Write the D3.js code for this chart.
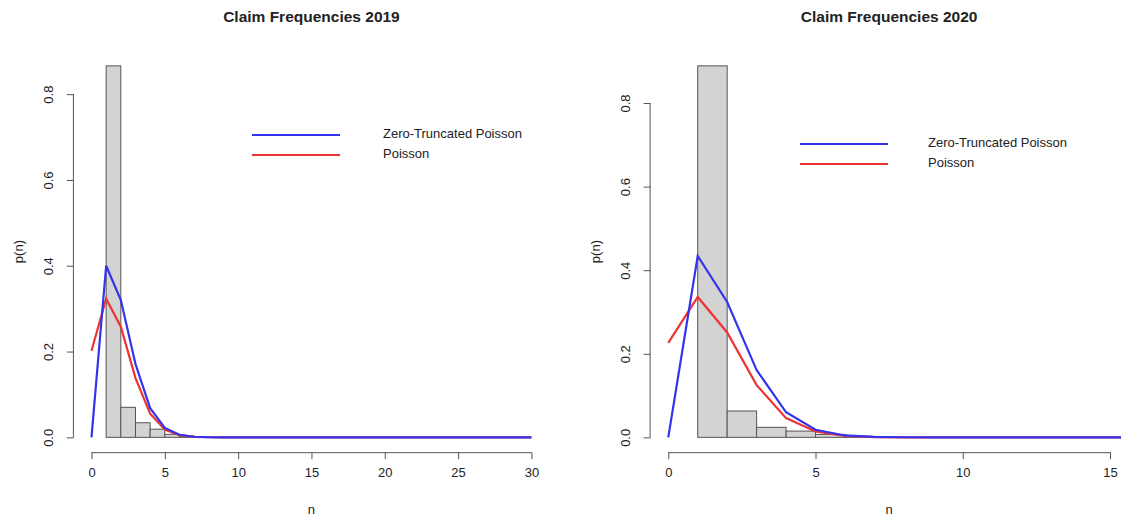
<!DOCTYPE html>
<html>
<head>
<meta charset="utf-8">
<script src="https://cdn.jsdelivr.net/npm/d3@7"></script>
<style>
  body { margin: 0; background: #fff; }
  text { font-family: "Liberation Sans", Arial, sans-serif; fill: #222; }
</style>
</head>
<body>
<div id="container"></div>
<script>
let w = 1121;
let h = 516;

// histogram bins (left edge of each unit-wide bar) and densities
let binStarts = [1, 2, 3, 4, 5, 6];
let density2019 = [0.866, 0.070, 0.034, 0.019, 0.007, 0.003];
let density2020 = [0.889, 0.063, 0.024, 0.015, 0.007, 0.002];

// fitted pmf values for n = 0..30
let ztp2019 = [0, 0.400, 0.320, 0.171, 0.068, 0.022, 0.006, 0.0014, 0.0003, 0,
  0, 0, 0, 0, 0, 0, 0, 0, 0, 0, 0, 0, 0, 0, 0, 0, 0, 0, 0, 0, 0];
let pois2019 = [0.202, 0.323, 0.258, 0.138, 0.055, 0.018, 0.005, 0.001, 0.0002, 0,
  0, 0, 0, 0, 0, 0, 0, 0, 0, 0, 0, 0, 0, 0, 0, 0, 0, 0, 0, 0, 0];
let ztp2020 = [0, 0.434, 0.324, 0.161, 0.060, 0.018, 0.0045, 0.001, 0.0002, 0,
  0, 0, 0, 0, 0, 0, 0, 0, 0, 0, 0, 0, 0, 0, 0, 0, 0, 0, 0, 0, 0];
let pois2020 = [0.226, 0.336, 0.251, 0.125, 0.046, 0.014, 0.0035, 0.0007, 0.0001, 0,
  0, 0, 0, 0, 0, 0, 0, 0, 0, 0, 0, 0, 0, 0, 0, 0, 0, 0, 0, 0, 0];

let xTicks2019 = [0, 5, 10, 15, 20, 25, 30];
let xTicks2020 = [0, 5, 10, 15];
let yTicks = [0, 0.2, 0.4, 0.6, 0.8];
let legendLabels = ["Zero-Truncated Poisson", "Poisson"];
let legendColors = ["#3333ee", "#ee3333"];

let panels = [
  { title: "Claim Frequencies 2019", bars: density2019, ztp: ztp2019, pois: pois2019,
    xlim: [0, 30], xTicks: xTicks2019, left: 73.9, right: 549, legX: 252, legY: 135, legText: 383 },
  { title: "Claim Frequencies 2020", bars: density2020, ztp: ztp2020, pois: pois2020,
    xlim: [0, 15], xTicks: xTicks2020, left: 650.6, right: 1127.7, legX: 800, legY: 144, legText: 928 }
];

let plotTop = 51;
let plotBottom = 452.2;

let viz = d3.select("#container")
  .append("svg")
    .attr("width", w)
    .attr("height", h)
;

panels.forEach(function(p, k){
  let g = viz.append("g").attr("class", "panel");

  // r style 4% padding around data range
  let xPad = (p.xlim[1] - p.xlim[0]) * 0.04;
  let yMax = d3.max(p.bars);
  let yPad = yMax * 0.04;

  let x = d3.scaleLinear()
    .domain([p.xlim[0] - xPad, p.xlim[1] + xPad])
    .range([p.left, p.right])
  ;
  let y = d3.scaleLinear()
    .domain([-yPad, yMax + yPad])
    .range([plotBottom, plotTop])
  ;

  let clipId = "clip" + k;
  g.append("clipPath").attr("id", clipId)
    .append("rect")
      .attr("x", p.left)
      .attr("y", plotTop)
      .attr("width", p.right - p.left)
      .attr("height", plotBottom - plotTop)
  ;

  //bars
  g.selectAll(".bar").data(p.bars).enter()
    .append("rect")
      .attr("class", "bar")
      .attr("x", (d, i) => x(binStarts[i]))
      .attr("y", d => y(d))
      .attr("width", (d, i) => x(binStarts[i] + 1) - x(binStarts[i]))
      .attr("height", d => y(0) - y(d))
      .attr("fill", "#d3d3d3")
      .attr("stroke", "#555")
      .attr("stroke-width", 1)
  ;

  //curves
  let line = d3.line()
    .x((d, i) => x(i))
    .y(d => y(d))
  ;
  let curves = g.append("g").attr("clip-path", "url(#" + clipId + ")");
  curves.append("path")
    .attr("d", line(p.pois))
    .attr("fill", "none")
    .attr("stroke", legendColors[1])
    .attr("stroke-width", 2.2)
  ;
  curves.append("path")
    .attr("d", line(p.ztp))
    .attr("fill", "none")
    .attr("stroke", legendColors[0])
    .attr("stroke-width", 2.2)
  ;

  //x axis
  let xAxis = d3.axisBottom(x)
    .tickValues(p.xTicks)
    .tickSize(7)
    .tickPadding(4)
    .tickSizeOuter(0)
  ;
  let gx = g.append("g")
    .attr("transform", "translate(0," + plotBottom + ")")
    .call(xAxis)
  ;
  gx.select(".domain").attr("d", "M" + x(p.xlim[0]) + ",0.5H" + x(p.xlim[1]));
  gx.selectAll("line, .domain").attr("stroke", "#555");
  gx.selectAll("text").attr("font-size", 13).attr("fill", "#222").attr("dy", "1.05em");

  //y axis with rotated labels
  let yAxis = d3.axisLeft(y)
    .tickValues(yTicks)
    .tickFormat(d3.format(".1f"))
    .tickSize(7)
    .tickSizeOuter(0)
  ;
  let gy = g.append("g")
    .attr("transform", "translate(" + p.left + ",0)")
    .call(yAxis)
  ;
  gy.select(".domain").attr("d", "M-0.5," + y(0) + "V" + y(0.8));
  gy.selectAll("line, .domain").attr("stroke", "#555");
  gy.selectAll(".tick text")
    .attr("font-size", 13)
    .attr("fill", "#222")
    .attr("x", null)
    .attr("dy", null)
    .attr("text-anchor", "middle")
    .attr("transform", "translate(-24,0) rotate(-90)")
    .attr("dominant-baseline", "middle")
  ;

  //titles
  g.append("text")
    .text(p.title)
    .attr("x", (p.left + p.right) / 2)
    .attr("y", 22)
    .attr("text-anchor", "middle")
    .attr("font-size", 15.5)
    .attr("font-weight", "bold")
  ;
  g.append("text")
    .text("n")
    .attr("x", (p.left + p.right) / 2)
    .attr("y", 514)
    .attr("text-anchor", "middle")
    .attr("font-size", 13)
  ;
  g.append("text")
    .text("p(n)")
    .attr("transform", "translate(" + (p.left - 54) + "," + ((plotTop + plotBottom) / 2) + ") rotate(-90)")
    .attr("text-anchor", "middle")
    .attr("dominant-baseline", "middle")
    .attr("font-size", 13)
  ;

  //legend
  let leg = g.selectAll(".leg").data(legendLabels).enter()
    .append("g")
      .attr("class", "leg")
      .attr("transform", (d, i) => "translate(0," + (p.legY + i * 20) + ")")
  ;
  leg.append("line")
    .attr("x1", p.legX)
    .attr("x2", p.legX + 88)
    .attr("stroke", (d, i) => legendColors[i])
    .attr("stroke-width", 2.2)
  ;
  leg.append("text")
    .text(d => d)
    .attr("x", p.legText)
    .attr("dominant-baseline", "middle")
    .attr("font-size", 13)
  ;
});
</script>
</body>
</html>
